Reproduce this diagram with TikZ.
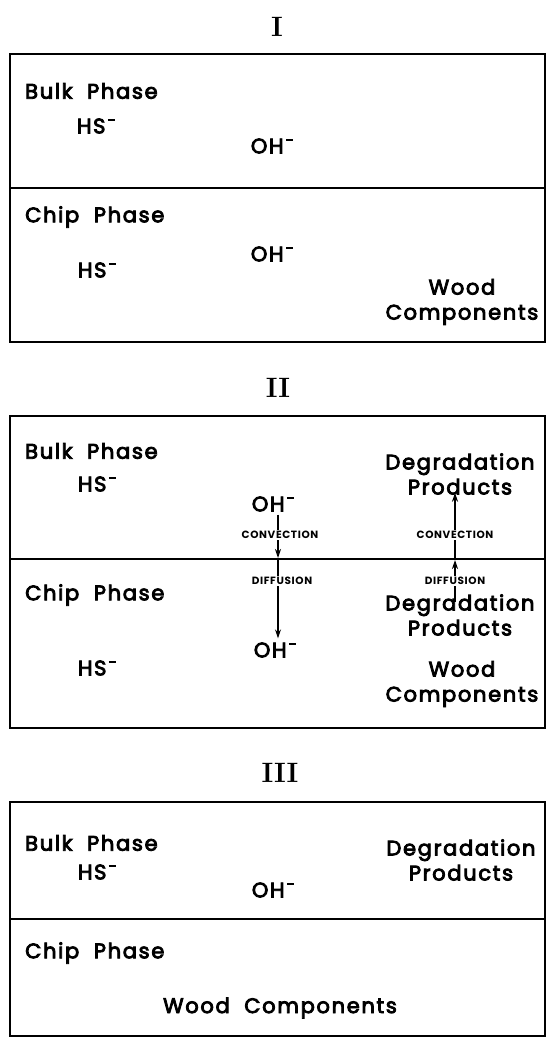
\documentclass[tikz,border=0pt]{standalone}
\usepackage{fontspec}
\newfontfamily\labfont[LetterSpace=8, WordSpace=2, FakeBold=4]{Poppins}
\newfontfamily\modefont[LetterSpace=6]{Poppins}
\usepackage{tikz}
\usetikzlibrary{arrows.meta, positioning, calc}
\newcommand{\chg}{\textsuperscript{\,\rule[0.6ex]{0.45em}{2pt}}}

\begin{document}
\begin{tikzpicture}[
        x=1pt, y=-1pt,
        frame/.style={draw=black, line width=1.5pt},
        phase/.style={anchor=west, inner sep=0pt, font=\labfont\fontsize{21}{26}\selectfont},
        ion/.style={inner sep=0pt, font=\labfont\fontsize{21}{26}\selectfont},
        spec/.style={inner sep=0pt, align=center, font=\labfont\fontsize{21}{25}\selectfont},
        mode/.style={inner sep=1pt, fill=white, font=\modefont\bfseries\fontsize{10.5}{12}\selectfont},
        numeral/.style={inner sep=0pt, font=\bfseries\fontsize{28}{32}\selectfont},
        arr/.style={-{Stealth[length=9pt, width=6pt]}, line width=1.3pt},
      ]
        \useasboundingbox (0,0) rectangle (547,1039);

        % stage I
        \node[numeral] (tI) at (277,27) {I};
        \draw[frame] (10,54) rectangle (545,342);
        \draw[frame] (10,188) -- (545,188);
        \node[phase] (bulkI) at (25,91) {Bulk Phase};
        \node[ion] (hsbI) at (96,126) {HS\chg};
        \node[ion] (ohbI) at (272,146) {OH\chg};
        \node[phase] (chipI) at (25,217) {Chip Phase};
        \node[ion] (ohcI) at (272,254) {OH\chg};
        \node[ion] (hscI) at (97,270) {HS\chg};
        \node[spec] (woodI) at (462,302) {Wood\\Components};

        % stage II
        \node[numeral] (tII) at (278,388) {II};
        \draw[frame] (10,416) rectangle (545,728);
        \draw[frame] (10,559) -- (545,559);
        \node[phase] (bulkII) at (25,451) {Bulk Phase};
        \node[ion] (hsbII) at (97,484) {HS\chg};
        \node[ion] (ohbII) at (273,504) {OH\chg};
        \node[spec] (dpbII) at (460,474) {Degradation\\Products};
        \node[phase] (chipII) at (25,595) {Chip Phase};
        \node[spec] (dpcII) at (460,615) {Degradation\\Products};
        \node[ion] (ohcII) at (275,650) {OH\chg};
        \node[ion] (hscII) at (97,668) {HS\chg};
        \node[spec] (woodII) at (462,684) {Wood\\Components};
        \coordinate (inL) at (278,559);
        \coordinate (inR) at (455,559);

        \draw[arr] (ohbII.south -| inL) ++(0,3) -- ($(inL)+(0,-1)$);
        \draw[arr] ($(inL)+(0,1)$) -- ($(ohcII.north -| inL)+(0,-4)$);
        \draw[arr] ($(dpcII.north -| inR)+(0,8)$) -- ($(inR)+(0,1)$);
        \draw[arr] ($(inR)+(0,-1)$) -- ($(dpbII.south -| inR)+(0,-2)$);
        \node[mode] (convL) at (280,535) {CONVECTION};
        \node[mode] (convR) at (455,535) {CONVECTION};
        \node[mode] (diffL) at (282,581) {DIFFUSION};
        \node[mode] (diffR) at (455,581) {DIFFUSION};

        % stage III
        \node[numeral] (tIII) at (280,773) {III};
        \draw[frame] (10,802) rectangle (545,1036);
        \draw[frame] (10,919) -- (545,919);
        \node[phase] (bulkIII) at (25,843) {Bulk Phase};
        \node[ion] (hsbIII) at (97,872) {HS\chg};
        \node[ion] (ohbIII) at (273,890) {OH\chg};
        \node[spec] (dpbIII) at (461,860) {Degradation\\Products};
        \node[phase] (chipIII) at (25,953) {Chip Phase};
        \node[ion] (woodIII) at (280,1008) {Wood Components};
      \end{tikzpicture}
\end{document}
